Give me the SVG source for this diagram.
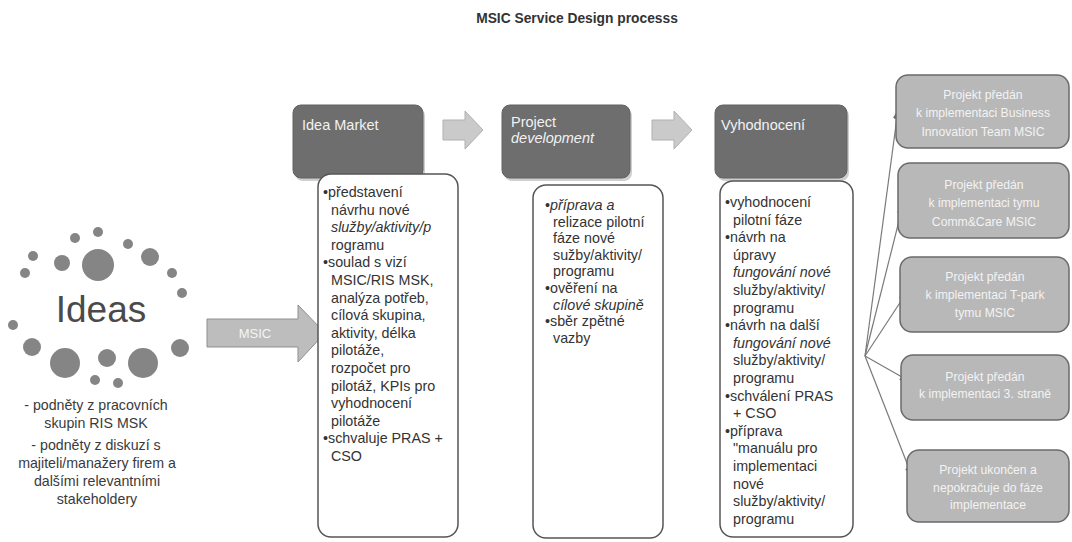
<svg xmlns="http://www.w3.org/2000/svg" width="1072" height="542" viewBox="0 0 1072 542">
<style>
.title{font-family:"Liberation Sans",Arial,sans-serif;font-weight:bold;font-size:13.8px;fill:#333;text-anchor:middle}
.dot{fill:#858585}
.ideas{font-family:"Liberation Sans",Arial,sans-serif;font-size:37px;fill:#4a4a4a;text-anchor:middle}
.note{font-family:"Liberation Sans",Arial,sans-serif;font-size:14.2px;fill:#3a3a3a;text-anchor:middle}
.hdr{fill:#6e6e6e;stroke:#626262;stroke-width:1}
.shd{fill:#cfcfcf}
.hdrt{font-family:"Liberation Sans",Arial,sans-serif;font-size:14.5px;fill:#f2f2f2}
.box{fill:#fff;stroke:#555;stroke-width:1.5}
.bt{font-family:"Liberation Sans",Arial,sans-serif;font-size:14.3px;fill:#333}
.it{font-style:italic}
.out{fill:#b8b8b8;stroke:#6a6a6a;stroke-width:1.5}
.outt{font-family:"Liberation Sans",Arial,sans-serif;font-size:12.2px;fill:#f3f3f3;text-anchor:middle}
.barrow{fill:#cacaca;stroke:#b0b0b0;stroke-width:1}
.msic{fill:#bdbdbd;stroke:#8f8f8f;stroke-width:1}
.msict{font-family:"Liberation Sans",Arial,sans-serif;font-size:13px;fill:#f5f5f5;text-anchor:middle}
.fan{stroke:#7a7a7a;stroke-width:1.2;fill:none;marker-end:url(#ah)}
</style>
<defs>
<marker id="ah" markerWidth="10" markerHeight="8" refX="9" refY="4" orient="auto" markerUnits="userSpaceOnUse">
<path d="M0,0 L10,4 L0,8 z" fill="#6f6f6f"/>
</marker>
</defs>

<text id="title" class="title" x="577" y="23">MSIC Service Design processs</text>

<g id="node-ideas">
<circle class="dot" cx="98" cy="232" r="5"/>
<circle class="dot" cx="75" cy="238" r="5"/>
<circle class="dot" cx="128" cy="244" r="5"/>
<circle class="dot" cx="33" cy="256" r="5"/>
<circle class="dot" cx="62" cy="263" r="8"/>
<circle class="dot" cx="98" cy="265" r="16"/>
<circle class="dot" cx="150" cy="257" r="9"/>
<circle class="dot" cx="25" cy="273" r="5"/>
<circle class="dot" cx="172" cy="273" r="5"/>
<circle class="dot" cx="182" cy="293" r="5"/>
<circle class="dot" cx="13" cy="325" r="5"/>
<circle class="dot" cx="32" cy="347" r="9"/>
<circle class="dot" cx="65" cy="363" r="15"/>
<circle class="dot" cx="107" cy="358" r="9"/>
<circle class="dot" cx="143" cy="363" r="15"/>
<circle class="dot" cx="180" cy="348" r="9"/>
<circle class="dot" cx="95" cy="380" r="5"/>
<circle class="dot" cx="118" cy="383" r="5"/>
<text class="ideas" x="101" y="322">Ideas</text>
<text class="note" x="96" y="410">- podněty z pracovních</text>
<text class="note" x="96" y="428">skupin RIS MSK</text>
<text class="note" x="96" y="450">- podněty z diskuzí s</text>
<text class="note" x="97" y="468">majiteli/manažery firem a</text>
<text class="note" x="97" y="486">dalšími relevantními</text>
<text class="note" x="97" y="504">stakeholdery</text>
</g>

<g id="connectors">
<path class="msic" d="M207,319 L298,319 L298,305 L325,333 L298,362 L298,347 L207,347 Z"/>
<text class="msict" x="255" y="338">MSIC</text>
<path class="barrow" d="M443,120 L465,120 L465,111 L483,130 L465,149 L465,140 L443,140 Z"/>
<path class="barrow" d="M652,120 L674,120 L674,111 L692,130 L674,149 L674,140 L652,140 Z"/>
<line class="fan" x1="865" y1="356" x2="898" y2="110"/>
<line class="fan" x1="865" y1="356" x2="903" y2="205"/>
<line class="fan" x1="865" y1="356" x2="907" y2="292"/>
<line class="fan" x1="865" y1="356" x2="909" y2="381"/>
<line class="fan" x1="865" y1="356" x2="912" y2="476"/>
</g>

<g id="node-idea-market">
<rect class="shd" x="295" y="108" width="130" height="73" rx="8"/>
<rect class="hdr" x="293" y="105" width="130" height="73" rx="8"/>
<text class="hdrt" x="302" y="130">Idea Market</text>
<rect class="box" x="318" y="174" width="140" height="363" rx="13"/>
<text class="bt">
<tspan x="323" y="197">•představení</tspan>
<tspan x="331" y="214.6">návrhu nové</tspan>
<tspan x="331" y="232.2" class="it">služby/aktivity/p</tspan>
<tspan x="331" y="249.8">rogramu</tspan>
<tspan x="323" y="267.4">•soulad s vizí</tspan>
<tspan x="331" y="285">MSIC/RIS MSK,</tspan>
<tspan x="331" y="302.6">analýza potřeb,</tspan>
<tspan x="331" y="320.2">cílová skupina,</tspan>
<tspan x="331" y="337.8">aktivity, délka</tspan>
<tspan x="331" y="355.4">pilotáže,</tspan>
<tspan x="331" y="373">rozpočet pro</tspan>
<tspan x="331" y="390.6">pilotáž, KPIs pro</tspan>
<tspan x="331" y="408.2">vyhodnocení</tspan>
<tspan x="331" y="425.8">pilotáže</tspan>
<tspan x="323" y="443.4">•schvaluje PRAS +</tspan>
<tspan x="331" y="461">CSO</tspan>
</text>
</g>

<g id="node-project-development">
<rect class="shd" x="504" y="108" width="128" height="73" rx="8"/>
<rect class="hdr" x="502" y="105" width="128" height="73" rx="8"/>
<text class="hdrt" x="511" y="127">Project</text>
<text class="hdrt it" x="511" y="143">development</text>
<rect class="box" x="533" y="185" width="130" height="353" rx="13"/>
<text class="bt">
<tspan x="545" y="210">•</tspan><tspan class="it">příprava a</tspan>
<tspan x="553" y="226.6">relizace pilotní</tspan>
<tspan x="553" y="243.2">fáze nové</tspan>
<tspan x="553" y="259.8">sužby/aktivity/</tspan>
<tspan x="553" y="276.4">programu</tspan>
<tspan x="545" y="293">•ověření na</tspan>
<tspan x="553" y="309.6" class="it">cílové skupině</tspan>
<tspan x="545" y="326.2">•sběr zpětné</tspan>
<tspan x="553" y="342.8">vazby</tspan>
</text>
</g>

<g id="node-vyhodnoceni">
<rect class="shd" x="717" y="108" width="132" height="73" rx="8"/>
<rect class="hdr" x="715" y="105" width="132" height="73" rx="8"/>
<text class="hdrt" x="721" y="130">Vyhodnocení</text>
<rect class="box" x="720" y="181" width="133" height="356" rx="13"/>
<text class="bt">
<tspan x="725" y="207">•vyhodnocení</tspan>
<tspan x="733" y="224.6">pilotní fáze</tspan>
<tspan x="725" y="242.2">•návrh na</tspan>
<tspan x="733" y="259.8">úpravy</tspan>
<tspan x="733" y="277.4" class="it">fungování nové</tspan>
<tspan x="733" y="295">služby/aktivity/</tspan>
<tspan x="733" y="312.6">programu</tspan>
<tspan x="725" y="330.2">•návrh na další</tspan>
<tspan x="733" y="347.8" class="it">fungování nové</tspan>
<tspan x="733" y="365.4">služby/aktivity/</tspan>
<tspan x="733" y="383">programu</tspan>
<tspan x="725" y="400.6">•schválení PRAS</tspan>
<tspan x="733" y="418.2">+ CSO</tspan>
<tspan x="725" y="435.8">•příprava</tspan>
<tspan x="733" y="453.4">"manuálu pro</tspan>
<tspan x="733" y="471">implementaci</tspan>
<tspan x="733" y="488.6">nové</tspan>
<tspan x="733" y="506.2">služby/aktivity/</tspan>
<tspan x="733" y="523.8">programu</tspan>
</text>
</g>

<g id="node-out1">
<rect class="out" x="896" y="75" width="173" height="73" rx="12"/>
<text class="outt" x="983" y="99">Projekt předán</text>
<text class="outt" x="983" y="117">k implementaci Business</text>
<text class="outt" x="983" y="136">Innovation Team MSIC</text>
</g>
<g id="node-out2">
<rect class="out" x="898" y="163" width="171" height="75" rx="12"/>
<text class="outt" x="984" y="189">Projekt předán</text>
<text class="outt" x="984" y="207">k implementaci tymu</text>
<text class="outt" x="984" y="226">Comm&amp;Care MSIC</text>
</g>
<g id="node-out3">
<rect class="out" x="900" y="257" width="169" height="75" rx="12"/>
<text class="outt" x="985" y="281">Projekt předán</text>
<text class="outt" x="985" y="299">k implementaci T-park</text>
<text class="outt" x="985" y="317">tymu MSIC</text>
</g>
<g id="node-out4">
<rect class="out" x="901" y="355" width="168" height="65" rx="12"/>
<text class="outt" x="985" y="381">Projekt předán</text>
<text class="outt" x="985" y="398">k implementaci 3. straně</text>
</g>
<g id="node-out5">
<rect class="out" x="907" y="450" width="162" height="72" rx="12"/>
<text class="outt" x="988" y="474">Projekt ukončen a</text>
<text class="outt" x="988" y="492">nepokračuje do fáze</text>
<text class="outt" x="988" y="509">implementace</text>
</g>
</svg>
